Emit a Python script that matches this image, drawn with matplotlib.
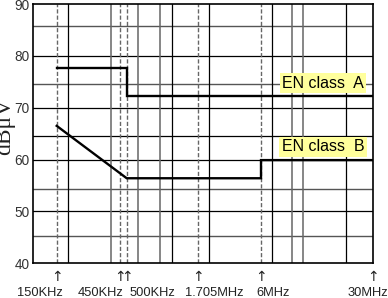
import numpy as np
import matplotlib
matplotlib.use("Agg")
import matplotlib.pyplot as plt
from matplotlib.transforms import blended_transform_factory

# ---------------- data ----------------
freq_marks = [150e3, 450e3, 500e3, 1.705e6, 6e6, 30e6]
freq_labels = ["150KHz", "450KHz", "500KHz", "1.705MHz", "6MHz", "30MHz"]

classA_f = [150e3, 500e3, 500e3, 30e6]
classA_v = [77.7, 77.7, 72.3, 72.3]

classB_f = [150e3, 500e3, 6e6, 6e6, 30e6]
classB_v = [66.5, 56.4, 56.4, 59.9, 59.9]

y_ticks = [40, 50, 60, 70, 80, 90]

# ---------------- axis scale (hand-drawn, piecewise log) ----------------
knot_f = np.log10([100e3, 150e3, 450e3, 500e3, 1.705e6, 6e6, 30e6])
knot_p = np.array([0, 23.4, 86.7, 93.4, 164.7, 227.7, 340.0])


def _interp_ext(x, xs, ys):
    x = np.atleast_1d(np.asarray(x, dtype=float))
    r = np.interp(x, xs, ys)
    s0 = (ys[1] - ys[0]) / (xs[1] - xs[0])
    s1 = (ys[-1] - ys[-2]) / (xs[-1] - xs[-2])
    lo = x < xs[0]
    hi = x > xs[-1]
    r[lo] = ys[0] + (x[lo] - xs[0]) * s0
    r[hi] = ys[-1] + (x[hi] - xs[-1]) * s1
    return r


def fwd(f):
    f = np.asarray(f, dtype=float)
    lf = np.log10(np.clip(f, 1e-12, None))
    return _interp_ext(lf, knot_f, knot_p).reshape(np.shape(f))


def inv(p):
    p = np.asarray(p, dtype=float)
    return (10 ** _interp_ext(p, knot_p, knot_f)).reshape(np.shape(p))


W, H = 388, 298
fig = plt.figure(figsize=(W / 100, H / 100), dpi=100)
ax = fig.add_axes([33.3 / W, 1 - 263.3 / H, 340 / W, 259.3 / H])
ax.set_xscale("function", functions=(fwd, inv))
ax.set_xlim(100e3, 30e6)
ax.set_ylim(40, 90)

# grid: horizontal
for v in [50, 60, 64.6, 70, 80]:
    ax.axhline(v, color="black", lw=0.9, zorder=1)
for v in [45.3, 54.4, 74.6, 85.8]:
    ax.axhline(v, color="#555555", lw=1.0, zorder=1)
# grid: vertical (axes fraction)
for xf in [0.1029, 0.4065, 0.5176, 0.7029, 0.9188]:
    ax.plot([xf, xf], [0, 1], color="black", lw=0.9, zorder=1, transform=ax.transAxes)
for xf in [0.2276, 0.3088, 0.3735, 0.76, 0.7924]:
    ax.plot([xf, xf], [0, 1], color="#666666", lw=1.1, zorder=1, transform=ax.transAxes)
# dashed markers
for f in freq_marks[:-1]:
    ax.axvline(f, color="#666666", lw=1.0, ls=(0, (3, 1.5)), zorder=1)

# limit lines
ax.plot(classA_f, classA_v, color="black", lw=1.7, zorder=3, solid_joinstyle="miter")
ax.plot(classB_f, classB_v, color="black", lw=1.7, zorder=3, solid_joinstyle="miter")

# labels
box = dict(boxstyle="square,pad=0.15", fc="#ffff9c", ec="none")
ax.text(0.852, 74.7, "EN class  A", transform=ax.get_yaxis_transform(), ha="center",
        va="center", fontsize=11.5, family="Liberation Sans", bbox=box, zorder=4)
ax.text(0.852, 62.5, "EN class  B", transform=ax.get_yaxis_transform(), ha="center",
        va="center", fontsize=11.5, family="Liberation Sans", bbox=box, zorder=4)

# axes styling
ax.set_xticks([])
ax.set_yticks(y_ticks)
ax.set_yticklabels([str(t) for t in y_ticks], fontsize=9.8, family="Liberation Sans", color="#333333")
ax.tick_params(axis="y", length=0, pad=2.5)
for s in ax.spines.values():
    s.set_color("black")
    s.set_linewidth(1.2)
    s.set_zorder(5)

# frequency arrows and labels
tr = blended_transform_factory(ax.transData, fig.transFigure)
offsets = [-16.4, -19.3, 25.3, 15.8, 12.0, -5.6]
for f, lab, dx in zip(freq_marks, freq_labels, offsets):
    ax.text(f, (H - 276.7) / H, "\u2191", transform=tr, ha="center", va="center",
            fontsize=10, color="#222222", clip_on=False)
    ax.annotate(lab, xy=(f, 0.006), xycoords=("data", "figure fraction"),
                xytext=(dx, 0), textcoords="offset pixels", ha="center", va="baseline",
                fontsize=9.3, family="Liberation Sans", color="#222222", annotation_clip=False)

fig.text(5 / W, (H - 126) / H, "dB\u03bcV", rotation=90, ha="center", va="center",
         fontsize=17, family="Liberation Serif", color="#222222")

fig.savefig("out.png", dpi=100)
